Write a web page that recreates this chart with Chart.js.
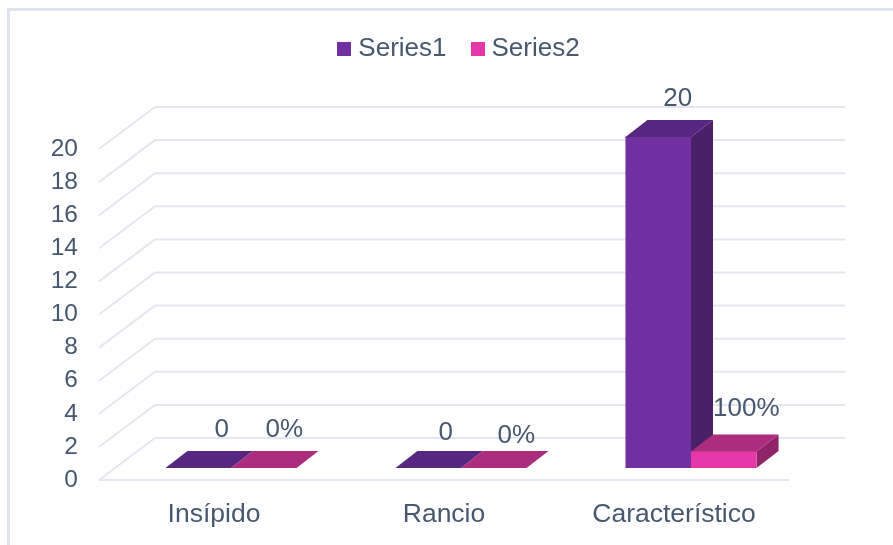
<!DOCTYPE html>
<html>
<head>
<meta charset="utf-8">
<style>
  html, body { margin: 0; padding: 0; background: #fff; }
  canvas { display: block; }
</style>
<script src="https://cdn.jsdelivr.net/npm/chart.js@4"></script>
</head>
<body>
<canvas id="chart" width="893" height="545"></canvas>
<script>
const categories = ['Insípido', 'Rancio', 'Característico'];
const series1 = [0, 0, 20];
const series2 = [0, 0, 1];
const yTicks = [0, 2, 4, 6, 8, 10, 12, 14, 16, 18, 20];

const TEXT = '#47586f';
const GRID = '#e4e7ef';
const FRAME = '#dfe3ed';
const FONT = '"Liberation Sans", Arial, sans-serif';
const SIZE_LEGEND = 26;
const SIZE_CATEGORY = 26.5;
const SIZE_VALUE = 26;
const SIZE_TICK = 24.5;

// Oblique projection of the 3-D box: wall depth, bar offset on the floor, bar depth
const WALL = { dx: 56, dy: 42 };
const SHIFT = { dx: 17, dy: 12 };
const BAR = { dx: 22, dy: 17 };

const FACES = [
  { front: '#7030a0', top: '#572680', side: '#4a2068' },
  { front: '#e637a8', top: '#ac2d7e', side: '#8f2568' }
];

// Value label placement relative to the top of each bar's front face
const LABEL_NUDGE = [
  [[23.5, -38], [17.5, -35], [19.5, -38]],
  [[20.5, -38], [22.5, -32], [22.5, -43]]
];
const LABEL_FORMAT = [v => String(v), v => Math.round(v * 100) + '%'];

function poly(ctx, pts, fill) {
  ctx.beginPath();
  pts.forEach((p, i) => i ? ctx.lineTo(p[0], p[1]) : ctx.moveTo(p[0], p[1]));
  ctx.closePath();
  ctx.fillStyle = fill;
  ctx.fill();
}

// Square legend swatch that sits close to its text
function swatch(color) {
  const c = document.createElement('canvas');
  c.width = 14;
  c.height = 14;
  const g = c.getContext('2d');
  g.fillStyle = color;
  g.fillRect(0, 0, 14, 14);
  return c;
}

const box3d = {
  id: 'box3d',
  beforeInit(chart) {
    // Reserve the band between the legend and the plot
    const fit = chart.legend.fit;
    chart.legend.fit = function () {
      fit.call(this);
      this.height = 143;
    };
  },
  beforeDraw(chart) {
    const { ctx, width, height } = chart;
    ctx.save();
    ctx.fillStyle = FRAME;
    ctx.fillRect(7, 8, width - 7, 3);
    ctx.fillRect(7, 8, 3, height - 8);
    ctx.restore();
  },
  beforeDatasetsDraw(chart) {
    const { ctx, scales: { x, y } } = chart;
    const left = x.left, right = x.right;
    ctx.save();
    ctx.strokeStyle = GRID;
    ctx.lineWidth = 2;
    yTicks.forEach(v => {
      const py = y.getPixelForValue(v);
      ctx.beginPath();
      ctx.moveTo(left, py);
      ctx.lineTo(left + WALL.dx, py - WALL.dy);
      ctx.lineTo(right + WALL.dx, py - WALL.dy);
      ctx.stroke();
    });
    const floor = y.getPixelForValue(0);
    ctx.beginPath();
    ctx.moveTo(left, floor);
    ctx.lineTo(right, floor);
    ctx.stroke();

    // Side and top faces go down first, series by series; the front faces are painted over them
    chart.data.datasets.forEach((ds, d) => {
      const face = FACES[d];
      chart.getDatasetMeta(d).data.forEach(bar => {
        const l = bar.x - bar.width / 2 + SHIFT.dx;
        const r = bar.x + bar.width / 2 + SHIFT.dx;
        const t = bar.y - SHIFT.dy;
        const b = bar.base - SHIFT.dy;
        const tall = b - t > 0.5;
        if (tall) {
          poly(ctx, [[r, t], [r + BAR.dx, t - BAR.dy], [r + BAR.dx, b - BAR.dy], [r, b]], face.side);
        }
        // Tucked slightly under the front face so no seam shows along the shared edge
        const lap = tall ? 1 : 0;
        poly(ctx, [[l, t + lap], [l, t], [l + BAR.dx, t - BAR.dy], [r + BAR.dx, t - BAR.dy], [r, t], [r, t + lap]], face.top);
      });
    });
    ctx.restore();
  },
  beforeDatasetDraw(chart) {
    chart.ctx.save();
    chart.ctx.translate(SHIFT.dx, -SHIFT.dy);
  },
  afterDatasetDraw(chart) {
    chart.ctx.restore();
  },
  afterDatasetsDraw(chart) {
    const ctx = chart.ctx;
    ctx.save();
    ctx.font = SIZE_VALUE + 'px ' + FONT;
    ctx.fillStyle = TEXT;
    ctx.textAlign = 'center';
    ctx.textBaseline = 'middle';
    chart.data.datasets.forEach((ds, d) => {
      chart.getDatasetMeta(d).data.forEach((bar, i) => {
        const n = LABEL_NUDGE[d][i];
        ctx.fillText(LABEL_FORMAT[d](ds.data[i]), bar.x + SHIFT.dx + n[0], bar.y - SHIFT.dy + n[1]);
      });
    });
    ctx.restore();
  }
};

new Chart(document.getElementById('chart'), {
  type: 'bar',
  data: {
    labels: categories,
    datasets: [
      { label: 'Series1', data: series1, backgroundColor: FACES[0].front, yAxisID: 'y' },
      { label: 'Series2', data: series2, backgroundColor: FACES[1].front, yAxisID: 'y' }
    ]
  },
  plugins: [box3d],
  options: {
    responsive: false,
    animation: false,
    layout: { padding: { left: 30, top: 6, right: 0, bottom: 0 } },
    datasets: { bar: { categoryPercentage: 0.57, barPercentage: 1 } },
    plugins: {
      tooltip: { enabled: false },
      legend: {
        position: 'top',
        labels: {
          usePointStyle: true,
          boxWidth: 2,
          boxHeight: 14,
          padding: 30,
          color: TEXT,
          font: { family: FONT, size: SIZE_LEGEND },
          generateLabels(chart) {
            return Chart.defaults.plugins.legend.labels.generateLabels(chart).map((item, i) => {
              item.pointStyle = swatch(FACES[i].front);
              return item;
            });
          }
        }
      }
    },
    scales: {
      x: {
        grid: { display: false },
        border: { display: false },
        afterFit(scale) { scale.height = 65; },
        ticks: {
          color: TEXT,
          padding: 11,
          autoSkip: false,
          maxRotation: 0,
          font: { family: FONT, size: SIZE_CATEGORY }
        }
      },
      y: {
        min: 0,
        max: 20,
        grid: { display: false },
        border: { display: false },
        afterFit(scale) { scale.width = 69; },
        afterBuildTicks(scale) { scale.ticks = yTicks.map(value => ({ value })); },
        ticks: {
          color: TEXT,
          padding: 13,
          font: { family: FONT, size: SIZE_TICK }
        }
      },
      // Empty axis that holds the space to the right of the plot
      spacer: {
        position: 'right',
        grid: { display: false },
        border: { display: false },
        ticks: { display: false },
        afterFit(scale) { scale.width = 104; }
      }
    }
  }
});
</script>
</body>
</html>
